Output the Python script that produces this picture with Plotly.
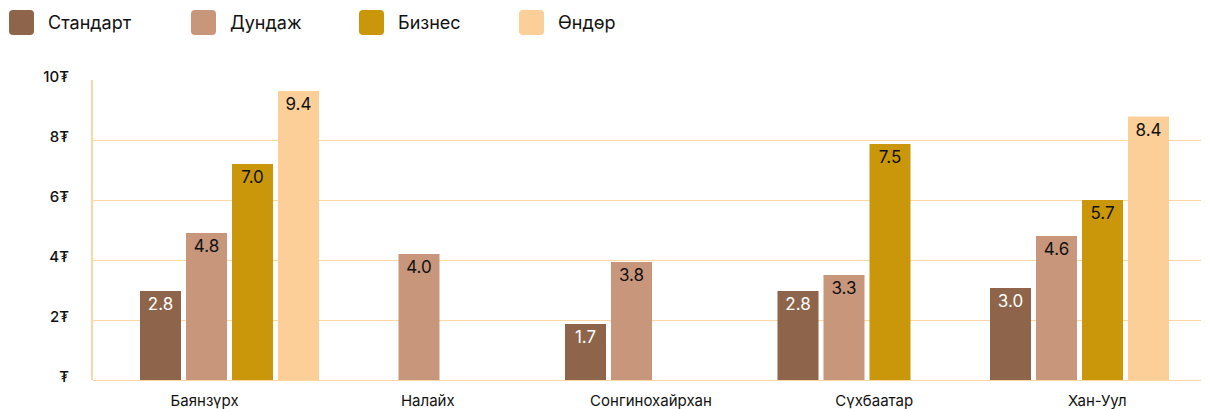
import plotly.graph_objects as go

# ---- data ----
categories = ["Баянзүрх", "Налайх", "Сонгинохайрхан", "Сүхбаатар", "Хан-Уул"]
series_names = ["Стандарт", "Дундаж", "Бизнес", "Өндөр"]

# bar heights as drawn
standart = [2.97, None, 1.87, 2.97, 3.07]
dundaj = [4.9, 4.2, 3.93, 3.5, 4.8]
biznes = [7.2, None, None, 7.87, 6.0]
ondor = [9.63, None, None, None, 8.78]

# value labels printed on bars
standart_lbl = [2.8, None, 1.7, 2.8, 3.0]
dundaj_lbl = [4.8, 4.0, 3.8, 3.3, 4.6]
biznes_lbl = [7.0, None, None, 7.5, 5.7]
ondor_lbl = [9.4, None, None, None, 8.4]

y_tickvals = [0, 2, 4, 6, 8, 10]
y_ticktext = ["₮", "2₮", "4₮", "6₮", "8₮", "10₮"]

# ---- style ----
colors = ["#8E654B", "#C8967B", "#C99709", "#FDCF98"]
text_colors = ["#FFFFFF", "#111111", "#111111", "#111111"]
grid_color = "#FDD6A6"
FONT = "Inter, DejaVu Sans, sans-serif"

# page body has an 8px margin; figure is sized so it ends at the window edge
OFF = 8
W, H = 1209 - OFF, 409 - OFF
ML, MR, MT, MB = 93 - OFF, 0, 80 - OFF, 29
PW, PH = W - ML - MR, H - MT - MB

values = [standart, dundaj, biznes, ondor]
labels = [standart_lbl, dundaj_lbl, biznes_lbl, ondor_lbl]

fig = go.Figure()
for name, vals, lbls, col, tcol in zip(series_names, values, labels, colors, text_colors):
    fig.add_trace(go.Bar(
        name=name,
        x=categories,
        y=vals,
        text=[("%.1f" % v) if v is not None else "" for v in lbls],
        textposition="inside",
        insidetextanchor="end",
        textangle=0,
        constraintext="none",
        textfont=dict(family=FONT, size=17, color=tcol),
        marker=dict(color=col, line=dict(width=0)),
        showlegend=False,
        hoverinfo="skip",
    ))

# invisible trace on a second x axis for category labels
fig.add_trace(go.Scatter(x=categories, y=[None] * len(categories), xaxis="x2",
                         mode="markers", showlegend=False, hoverinfo="skip"))

# x range: category pitch of 212.5 px, first category centre at 229.5 px (page coords)
pitch = 212.5
x0 = (93 - 229.5) / pitch
x1 = x0 + PW / pitch

fig.update_layout(
    width=W, height=H,
    margin=dict(l=ML, r=MR, t=MT, b=MB, autoexpand=False),
    paper_bgcolor="white", plot_bgcolor="white",
    barmode="group", bargap=0.134, bargroupgap=0.109,
    font=dict(family=FONT, color="#111111"),
    xaxis=dict(type="category", range=[x0, x1], showticklabels=False,
               showgrid=False, zeroline=False, showline=False, ticks=""),
    xaxis2=dict(type="category", overlaying="x", side="bottom", range=[-0.5, 4.5],
                showgrid=False, zeroline=False, showline=False, ticks="",
                tickfont=dict(family=FONT, size=15, color="#111111"),
                ticklabelstandoff=10),
    yaxis=dict(range=[0, 10], tickvals=y_tickvals, ticktext=y_ticktext,
               showgrid=True, gridcolor=grid_color, gridwidth=1,
               zeroline=True, zerolinecolor=grid_color, zerolinewidth=1,
               showline=True, linecolor=grid_color, linewidth=2,
               ticks="", ticklabelstandoff=19, ticklabelshift=-3,
               tickfont=dict(family=FONT, size=15, color="#111111", weight=500)),
)

# ---- manual legend (page pixel coordinates) ----
def px_x(p):
    return (p - OFF - ML) / PW

def px_y(p):
    return (MT + PH - (p - OFF)) / PH

legend_x = [9, 191, 359, 519]
sq = 25
top = 10
r = 4
shapes = []
annotations = []
for name, col, lx in zip(series_names, colors, legend_x):
    xa, xb = lx, lx + sq
    ya, yb = top, top + sq
    path = (f"M {px_x(xa + r)} {px_y(ya)} L {px_x(xb - r)} {px_y(ya)} "
            f"Q {px_x(xb)} {px_y(ya)} {px_x(xb)} {px_y(ya + r)} "
            f"L {px_x(xb)} {px_y(yb - r)} Q {px_x(xb)} {px_y(yb)} {px_x(xb - r)} {px_y(yb)} "
            f"L {px_x(xa + r)} {px_y(yb)} Q {px_x(xa)} {px_y(yb)} {px_x(xa)} {px_y(yb - r)} "
            f"L {px_x(xa)} {px_y(ya + r)} Q {px_x(xa)} {px_y(ya)} {px_x(xa + r)} {px_y(ya)} Z")
    shapes.append(dict(type="path", path=path, xref="paper", yref="paper",
                       fillcolor=col, line=dict(width=0), layer="above"))
    annotations.append(dict(text=name, x=px_x(xb + 12), y=px_y(top + sq / 2),
                            xref="paper", yref="paper", xanchor="left", yanchor="middle",
                            showarrow=False, font=dict(family=FONT, size=18, color="#111111")))

fig.update_layout(shapes=shapes, annotations=annotations)

fig.write_html("out.html")
